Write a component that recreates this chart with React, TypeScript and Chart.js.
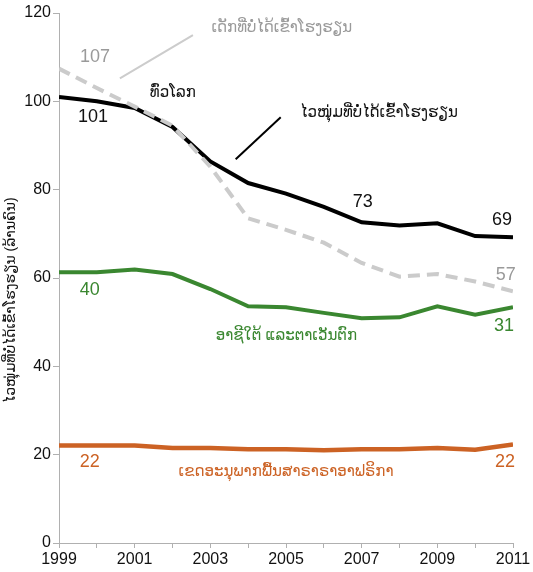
import React, { useEffect, useRef } from "react";
import { Chart, registerables } from "chart.js";

Chart.register(...registerables);

const years = [1999, 2000, 2001, 2002, 2003, 2004, 2005, 2006, 2007, 2008, 2009, 2010, 2011];
const adolescentsWorld = [101.0, 100.0, 98.5, 94.2, 86.4, 81.5, 79.1, 76.1, 72.6, 71.9, 72.4, 69.5, 69.2];
const childrenWorld = [107.4, 103.0, 98.8, 94.5, 85.2, 73.5, 70.9, 68.0, 63.4, 60.3, 60.9, 59.2, 57.0];
const southWestAsia = [61.3, 61.3, 61.9, 60.9, 57.5, 53.6, 53.4, 52.1, 50.9, 51.1, 53.6, 51.7, 53.4];
const subSaharanAfrica = [22.1, 22.1, 22.1, 21.5, 21.5, 21.2, 21.2, 21.0, 21.2, 21.2, 21.5, 21.1, 22.3];

const yTicksMax = 120;
const yTickStep = 20;
const yAxisTitle = "ໄວໜຸ່ມທີ່ບໍ່ໄດ້ເຂົ້າໂຮງຮຽນ (ລ້ານຄົນ)";

const BLACK = "#000000";
const GREY_LINE = "#cbcbcb";
const GREY_TEXT = "#9a9a9a";
const GREEN = "#3a8730";
const ORANGE = "#cc6224";

const FONT = "'Liberation Sans', Arial, 'DejaVu Sans', sans-serif";

type Note = { text: string; x: number; y: number; color: string; size: number };
const notes: Note[] = [
  { text: "107", x: 1999.95, y: 110.1, color: GREY_TEXT, size: 18 },
  { text: "101", x: 1999.9, y: 96.4, color: "#111", size: 18 },
  { text: "ທົ່ວໂລກ", x: 2002.01, y: 101.9, color: "#111", size: 15 },
  { text: "ເດັກທີ່ບໍ່ໄດ້ເຂົ້າໂຮງຮຽນ", x: 2004.89, y: 116.6, color: GREY_TEXT, size: 15 },
  { text: "ໄວໜຸ່ມທີ່ບໍ່ໄດ້ເຂົ້າໂຮງຮຽນ", x: 2007.46, y: 97.3, color: "#111", size: 15 },
  { text: "73", x: 2007.03, y: 77.3, color: "#111", size: 18 },
  { text: "69", x: 2010.71, y: 73.1, color: "#111", size: 18 },
  { text: "57", x: 2010.81, y: 60.6, color: GREY_TEXT, size: 18 },
  { text: "40", x: 1999.81, y: 57.2, color: GREEN, size: 18 },
  { text: "31", x: 2010.76, y: 49.1, color: GREEN, size: 18 },
  { text: "ອາຊີໃຕ້ ແລະຕາເວັນຕົກ", x: 2005.01, y: 46.8, color: GREEN, size: 15 },
  { text: "22", x: 1999.81, y: 18.4, color: ORANGE, size: 18 },
  { text: "22", x: 2010.79, y: 18.3, color: ORANGE, size: 18 },
  { text: "ເຂດອະນຸພາກພື້ນສາຣາຣາອາຟຣິກາ", x: 2005.0, y: 16.0, color: ORANGE, size: 15 },
];

type Leader = { x1: number; y1: number; x2: number; y2: number; color: string; width: number };
const leaders: Leader[] = [
  { x1: 2000.61, y1: 105.2, x2: 2002.54, y2: 115.0, color: "#cccccc", width: 2 },
  { x1: 2003.67, y1: 86.9, x2: 2004.86, y2: 96.4, color: "#000", width: 2 },
];

const annotationPlugin = {
  id: "annotations",
  afterDatasetsDraw(chart: any) {
    const { ctx, scales } = chart;
    const xs = scales.x;
    const ys = scales.y;
    ctx.save();
    leaders.forEach((l) => {
      ctx.beginPath();
      ctx.strokeStyle = l.color;
      ctx.lineWidth = l.width;
      ctx.moveTo(xs.getPixelForValue(l.x1), ys.getPixelForValue(l.y1));
      ctx.lineTo(xs.getPixelForValue(l.x2), ys.getPixelForValue(l.y2));
      ctx.stroke();
    });
    ctx.textAlign = "center";
    ctx.textBaseline = "middle";
    notes.forEach((n) => {
      ctx.font = `${n.size}px ${FONT}`;
      ctx.fillStyle = n.color;
      ctx.fillText(n.text, xs.getPixelForValue(n.x), ys.getPixelForValue(n.y));
    });
    // y-axis title
    ctx.translate(11, (ys.top + ys.bottom) / 2 + 22);
    ctx.rotate(-Math.PI / 2);
    ctx.font = `14px ${FONT}`;
    ctx.fillStyle = "#111";
    ctx.fillText(yAxisTitle, 0, 0);
    ctx.restore();
  },
};

export default function App() {
  const ref = useRef<HTMLCanvasElement | null>(null);
  useEffect(() => {
    if (!ref.current) return;
    const mk = (arr: number[]) => arr.map((v, i) => ({ x: years[i], y: v }));
    const chart = new Chart(ref.current, {
      type: "line",
      data: {
        datasets: [
          {
            label: "children",
            data: mk(childrenWorld),
            borderColor: GREY_LINE,
            borderWidth: 4,
            borderDash: [12, 7],
            pointRadius: 0,
            order: 0,
          },
          {
            label: "adolescents",
            data: mk(adolescentsWorld),
            borderColor: BLACK,
            borderWidth: 4,
            pointRadius: 0,
            order: 1,
          },
          {
            label: "south west asia",
            data: mk(southWestAsia),
            borderColor: GREEN,
            borderWidth: 4,
            pointRadius: 0,
            order: 2,
          },
          {
            label: "ssa",
            data: mk(subSaharanAfrica),
            borderColor: ORANGE,
            borderWidth: 4.5,
            pointRadius: 0,
            order: 3,
          },
        ],
      },
      options: {
        animation: false,
        responsive: false,
        maintainAspectRatio: false,
        layout: { padding: { top: 13, right: 20, left: 0, bottom: 0 } },
        plugins: { legend: { display: false }, tooltip: { enabled: false } },
        scales: {
          x: {
            type: "linear",
            min: years[0],
            max: years[years.length - 1],
            border: { color: "#b0b0b0", width: 1 },
            grid: { drawOnChartArea: false, color: "#b0b0b0", tickLength: 5 },
            ticks: {
              stepSize: 1,
              autoSkip: false,
              maxRotation: 0,
              color: "#111",
              padding: 2,
              font: { size: 16, family: FONT },
              callback: (v: any) => ((Number(v) - years[0]) % 2 === 0 ? String(v) : ""),
            },
            afterFit: (s: any) => {
              s.height = 29;
            },
          },
          y: {
            min: 0,
            max: yTicksMax,
            border: { color: "#b0b0b0", width: 1 },
            grid: { drawOnChartArea: false, color: "#b0b0b0", tickLength: 6 },
            ticks: {
              stepSize: yTickStep,
              color: "#111",
              padding: 2,
              font: { size: 16, family: FONT },
            },
            afterFit: (s: any) => {
              s.width = 59;
            },
          },
        },
      },
      plugins: [annotationPlugin],
    });
    return () => chart.destroy();
  }, []);
  return (
    <div style={{ position: "fixed", left: 0, top: 0, width: 533, height: 572, background: "#fff" }}>
      <canvas ref={ref} width={533} height={572} style={{ width: 533, height: 572 }} />
    </div>
  );
}
